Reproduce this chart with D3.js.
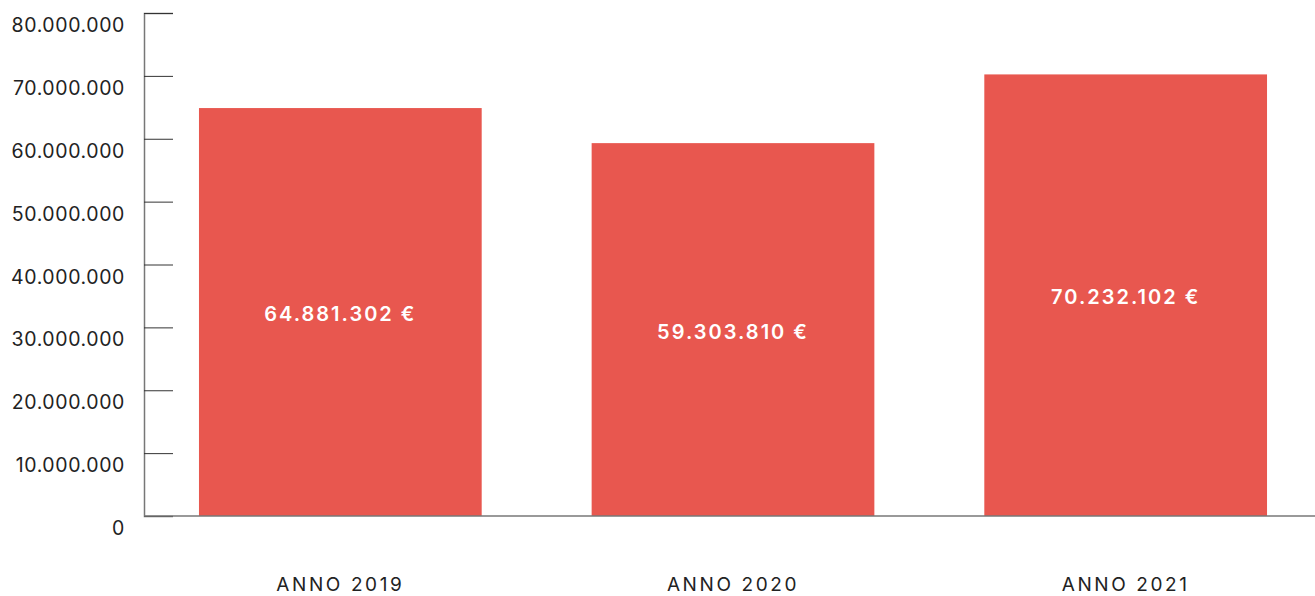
<!DOCTYPE html>
<meta charset="utf-8">
<style>
body { margin: 0; background: #fff; }
.axis text { font: 19.5px Inter, "Open Sans", sans-serif; fill: #222; letter-spacing: 0.6px; }
.xlab { font: 19px Inter, "Open Sans", sans-serif; fill: #222; letter-spacing: 2.6px; }
.val { font: 600 20px Inter, "Open Sans", sans-serif; fill: #fff; letter-spacing: 2px; }
</style>
<svg width="1315" height="596"></svg>
<script src="https://cdn.jsdelivr.net/npm/d3@7"></script>
<script>

var years = ["ANNO 2019", "ANNO 2020", "ANNO 2021"];
var values = [64881302, 59303810, 70232102];
var valueLabels = ["64.881.302 €", "59.303.810 €", "70.232.102 €"];
var yTicks = [0, 10000000, 20000000, 30000000, 40000000, 50000000, 60000000, 70000000, 80000000];

var svg = d3.select("svg");

var x = d3.scaleBand()
    .domain(years)
    .range([144, 1322])
    .paddingInner(0.28)
    .paddingOuter(0.14);

var y = d3.scaleLinear()
    .domain([0, 80000000])
    .range([516, 13]);

var fmt = function(d) { return d3.format(",")(d).replace(/,/g, "."); };

// y axis: ticks point into the plot
var yAxis = svg.append("g")
    .attr("class", "axis")
    .attr("transform", "translate(144,0)")
    .call(d3.axisRight(y).tickValues(yTicks).tickFormat(fmt).tickSize(29));

yAxis.select(".domain").attr("stroke", "#777").attr("stroke-width", 1.5);
yAxis.selectAll(".tick line").attr("stroke", "#333");
yAxis.selectAll(".tick text")
    .attr("x", -19)
    .attr("dy", "0.95em")
    .attr("text-anchor", "end");

// bars
svg.append("g").selectAll("rect")
    .data(values)
    .enter().append("rect")
      .attr("x", function(d, i) { return x(years[i]); })
      .attr("y", function(d) { return y(d); })
      .attr("width", x.bandwidth())
      .attr("height", function(d) { return y(0) - y(d); })
      .attr("fill", "#e8574f");

// baseline
svg.append("line")
    .attr("x1", 144).attr("x2", 1315)
    .attr("y1", y(0)).attr("y2", y(0))
    .attr("stroke", "#777").attr("stroke-width", 1.5);

// value labels
svg.append("g").selectAll("text")
    .data(values)
    .enter().append("text")
      .attr("class", "val")
      .attr("x", function(d, i) { return x(years[i]) + x.bandwidth() / 2; })
      .attr("y", function(d) { return (y(d) + y(0)) / 2 + 9; })
      .attr("text-anchor", "middle")
      .text(function(d, i) { return valueLabels[i]; });

// category labels
svg.append("g").selectAll("text")
    .data(years)
    .enter().append("text")
      .attr("class", "xlab")
      .attr("x", function(d) { return x(d) + x.bandwidth() / 2; })
      .attr("y", 591)
      .attr("text-anchor", "middle")
      .text(function(d) { return d; });

</script>
